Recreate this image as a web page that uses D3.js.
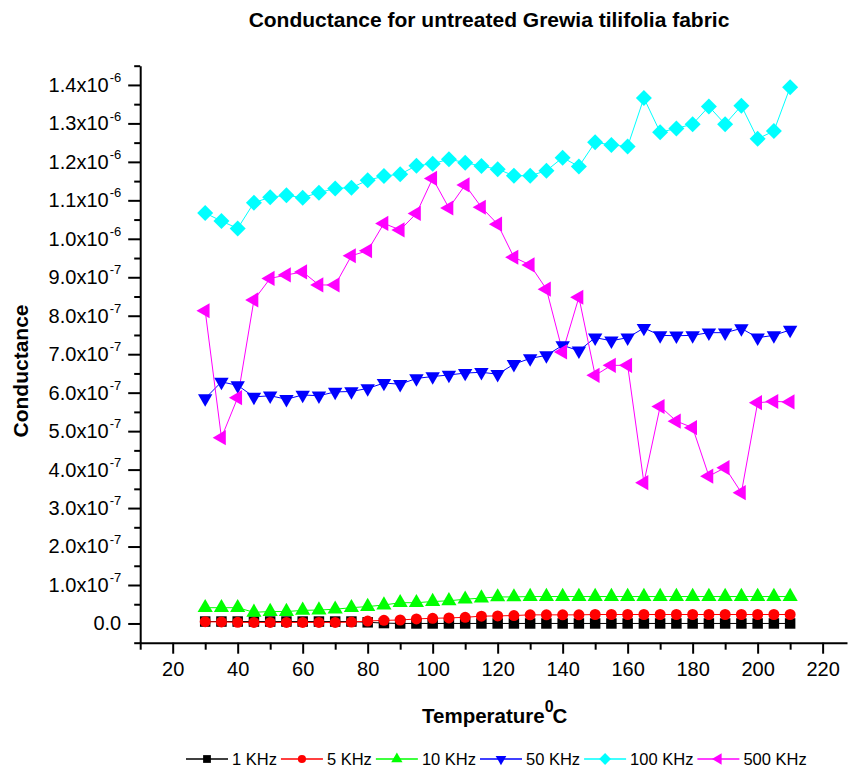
<!DOCTYPE html>
<html><head><meta charset="utf-8">
<script src="https://cdn.jsdelivr.net/npm/d3@7"></script>
<style>
body{margin:0;background:#fff}
svg{display:block;background:#fff}
text{font-family:Arial,'Liberation Sans',sans-serif;fill:#000}
</style>
</head><body>
<svg id="chart" width="848" height="769"></svg>
<script>
// ---------- DATA ----------
const temperatures = [30,35,40,45,50,55,60,65,70,75,80,85,90,95,100,105,110,115,120,125,130,135,140,145,150,155,160,165,170,175,180,185,190,195,200,205,210];
const seriesNames = ["1 KHz","5 KHz","10 KHz","50 KHz","100 KHz","500 KHz"];
const seriesColors = ["#000000","#ff0000","#00ff00","#0000ff","#00ffff","#ff00ff"];
// values in siemens
const cond1KHz = [0.05e-7,0.05e-7,0.05e-7,0.05e-7,0.05e-7,0.05e-7,0.05e-7,0.05e-7,0.05e-7,0.05e-7,0.03e-7,0.01e-7,0.0,0.0,0.0,0.0,0.0,0.0,0.0,0.0,0.0,0.0,0.0,0.0,0.0,0.0,0.0,0.0,0.0,0.0,0.0,0.0,0.0,0.0,0.0,0.0,0.0];
const cond5KHz = [0.045e-7,0.04e-7,0.03e-7,0.027e-7,0.027e-7,0.027e-7,0.027e-7,0.027e-7,0.027e-7,0.035e-7,0.063e-7,0.081e-7,0.09e-7,0.117e-7,0.135e-7,0.144e-7,0.16e-7,0.19e-7,0.197e-7,0.206e-7,0.224e-7,0.224e-7,0.224e-7,0.224e-7,0.233e-7,0.233e-7,0.233e-7,0.233e-7,0.233e-7,0.233e-7,0.233e-7,0.233e-7,0.233e-7,0.233e-7,0.233e-7,0.233e-7,0.233e-7];
const cond10KHz = [0.41e-7,0.41e-7,0.41e-7,0.29e-7,0.31e-7,0.31e-7,0.34e-7,0.35e-7,0.37e-7,0.41e-7,0.44e-7,0.48e-7,0.54e-7,0.54e-7,0.57e-7,0.59e-7,0.63e-7,0.66e-7,0.69e-7,0.69e-7,0.70e-7,0.70e-7,0.70e-7,0.70e-7,0.70e-7,0.70e-7,0.70e-7,0.70e-7,0.70e-7,0.70e-7,0.70e-7,0.70e-7,0.70e-7,0.70e-7,0.70e-7,0.70e-7,0.70e-7];
const cond50KHz = [5.85e-7,6.28e-7,6.19e-7,5.89e-7,5.92e-7,5.83e-7,5.94e-7,5.92e-7,6.02e-7,6.03e-7,6.11e-7,6.25e-7,6.22e-7,6.37e-7,6.42e-7,6.46e-7,6.51e-7,6.53e-7,6.48e-7,6.74e-7,6.89e-7,6.97e-7,7.23e-7,7.09e-7,7.43e-7,7.35e-7,7.43e-7,7.68e-7,7.49e-7,7.48e-7,7.49e-7,7.56e-7,7.56e-7,7.67e-7,7.43e-7,7.49e-7,7.63e-7];
const cond100KHz = [10.67e-7,10.46e-7,10.27e-7,10.94e-7,11.08e-7,11.13e-7,11.07e-7,11.20e-7,11.31e-7,11.33e-7,11.52e-7,11.63e-7,11.68e-7,11.90e-7,11.95e-7,12.07e-7,11.98e-7,11.89e-7,11.81e-7,11.64e-7,11.64e-7,11.77e-7,12.11e-7,11.88e-7,12.51e-7,12.44e-7,12.40e-7,13.66e-7,12.77e-7,12.87e-7,12.98e-7,13.44e-7,12.98e-7,13.46e-7,12.60e-7,12.80e-7,13.94e-7];
const cond500KHz = [8.13e-7,4.83e-7,5.87e-7,8.41e-7,8.97e-7,9.06e-7,9.14e-7,8.80e-7,8.80e-7,9.56e-7,9.69e-7,10.40e-7,10.23e-7,10.66e-7,11.57e-7,10.80e-7,11.40e-7,10.82e-7,10.38e-7,9.52e-7,9.32e-7,8.69e-7,7.06e-7,8.48e-7,6.45e-7,6.71e-7,6.71e-7,3.66e-7,5.64e-7,5.26e-7,5.09e-7,3.83e-7,4.05e-7,3.40e-7,5.74e-7,5.77e-7,5.76e-7];
const xTickValues = [10,20,30,40,50,60,70,80,90,100,110,120,130,140,150,160,170,180,190,200,210,220];
const yTickValues = [0,1e-7,2e-7,3e-7,4e-7,5e-7,6e-7,7e-7,8e-7,9e-7,1.0e-6,1.1e-6,1.2e-6,1.3e-6,1.4e-6];
const yMinorTickValues = [-0.5e-7,0.5e-7,1.5e-7,2.5e-7,3.5e-7,4.5e-7,5.5e-7,6.5e-7,7.5e-7,8.5e-7,9.5e-7,10.5e-7,11.5e-7,12.5e-7,13.5e-7,14.5e-7];

const allSeries = [cond1KHz,cond5KHz,cond10KHz,cond50KHz,cond100KHz,cond500KHz];

// ---------- LAYOUT ----------
const svg = d3.select("#chart");
const x = d3.scaleLinear().domain([10,227.5]).range([140.2,847]);
const y = d3.scaleLinear().domain([-0.5e-7,1.45e-6]).range([642.7,65.7]);

// marker definitions: [type, size, rotation]
const markerDefs = [
  [d3.symbolSquare,110,0],
  [d3.symbolCircle,95,0],
  [d3.symbolTriangle,100,0],
  [d3.symbolTriangle,90,180],
  [d3.symbolSquare,128,45],
  [d3.symbolTriangle,100,-90]
];

// ---------- AXES ----------
const yAxisG = svg.append("g").attr("transform","translate(140.2,0)");
yAxisG.call(d3.axisLeft(y).tickValues(yTickValues).tickSize(12).tickSizeOuter(0).tickFormat(""));
yAxisG.select(".domain").attr("stroke","#000").attr("stroke-width",2);
yAxisG.selectAll(".tick line").attr("stroke","#000").attr("stroke-width",2);
yAxisG.selectAll(".tick").each(function(d){
  const t = d3.select(this).select("text")
    .attr("x",-19).attr("dy","0.32em").attr("font-size",20).attr("text-anchor","end").attr("fill","#000");
  if (d === 0) { t.text("0.0"); return; }
  const exp = d >= 1e-6 ? -6 : -7;
  const mant = (d / Math.pow(10, exp)).toFixed(1);
  t.append("tspan").text(mant + "x10");
  t.append("tspan").attr("font-size",13).attr("dy","-0.75em").attr("dx",1).text(String(exp));
});
const yMinorG = svg.append("g").attr("transform","translate(140.2,0)");
yMinorG.call(d3.axisLeft(y).tickValues(yMinorTickValues).tickSize(6).tickSizeOuter(0).tickFormat(""));
yMinorG.select(".domain").remove();
yMinorG.selectAll(".tick line").attr("stroke","#000").attr("stroke-width",2);

const xAxisG = svg.append("g").attr("transform","translate(0,642.7)");
xAxisG.call(d3.axisBottom(x).tickValues(xTickValues).tickSizeOuter(0).tickFormat(d => d % 20 === 0 ? d : ""));
xAxisG.select(".domain").attr("stroke","#000").attr("stroke-width",2);
xAxisG.selectAll(".tick line").attr("stroke","#000").attr("stroke-width",2)
  .attr("y2", d => d % 20 === 0 ? 11 : 7);
xAxisG.selectAll(".tick text").attr("y",19).attr("dy","0.71em").attr("font-size",20).attr("fill","#000");

// ---------- SERIES ----------
const line = d3.line().x((d,i) => x(temperatures[i])).y(d => y(d));
allSeries.forEach((vals,si) => {
  svg.append("path").datum(vals).attr("d",line).attr("fill","none")
    .attr("stroke",seriesColors[si]).attr("stroke-width",1);
});
allSeries.forEach((vals,si) => {
  const [type,size,rot] = markerDefs[si];
  const sym = d3.symbol().type(type).size(size);
  svg.append("g").selectAll("path").data(vals).join("path")
    .attr("d",sym)
    .attr("transform",(d,i) => `translate(${x(temperatures[i])},${y(d)}) rotate(${rot})`)
    .attr("fill",seriesColors[si]);
});

// ---------- TITLES ----------
svg.append("text").attr("x",489).attr("y",27).attr("text-anchor","middle")
  .attr("font-size",21).attr("font-weight","bold").text("Conductance for untreated Grewia tilifolia fabric");

svg.append("text").attr("transform","translate(28,371) rotate(-90)").attr("text-anchor","middle")
  .attr("font-size",21).attr("font-weight","bold").text("Conductance");

const xt = svg.append("text").attr("x",422).attr("y",723).attr("font-size",20.5).attr("font-weight","bold");
xt.append("tspan").text("Temperature");
xt.append("tspan").attr("font-size",16).attr("dy",-11).text("0");
xt.append("tspan").attr("dy",11).attr("dx",-1).text("C");

// ---------- LEGEND ----------
const legend = svg.append("g");
let lx = 186;
const ly = 759;
seriesNames.forEach((name,si) => {
  const [type,size,rot] = markerDefs[si];
  legend.append("line").attr("x1",lx).attr("x2",lx+42).attr("y1",ly).attr("y2",ly)
    .attr("stroke",seriesColors[si]).attr("stroke-width",1.5);
  legend.append("path").attr("d",d3.symbol().type(type).size(size*0.55))
    .attr("transform",`translate(${lx+21},${ly}) rotate(${rot})`).attr("fill",seriesColors[si]);
  const t = legend.append("text").attr("x",lx+46).attr("y",ly).attr("dy","0.35em")
    .attr("font-size",16.5).text(name);
  lx += 46 + t.node().getComputedTextLength() + 4;
});
</script>
</body></html>
